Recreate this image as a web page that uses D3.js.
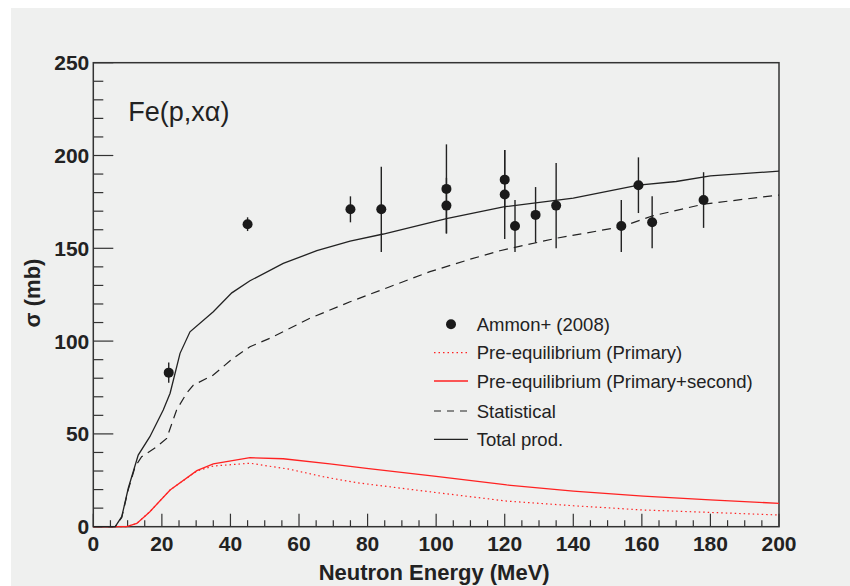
<!DOCTYPE html>
<html>
<head>
<meta charset="utf-8">
<script src="https://cdn.jsdelivr.net/npm/d3@7"></script>
<style>
  body { margin: 0; background: #fff; }
  svg { display: block; }
  text { font-family: "Liberation Sans", Arial, Helvetica, sans-serif; fill: #222; }
</style>
</head>
<body>
<div id="chart"></div>
<script>
// Ammon+ (2008) measurements: energy, cross section, error
const dataE   = [22, 45, 75, 84, 103, 103, 120, 120, 123, 129, 135, 154, 159, 163, 178];
const dataSig = [83, 163, 171, 171, 182, 173, 187, 179, 162, 168, 173, 162, 184, 164, 176];
const dataErr = [5.5, 3.7, 7, 23, 24, 15, 16, 24, 14, 15, 23, 14, 15, 14, 15];

// Total prod.
const totE   = [0, 6.4, 8.3, 10.2, 13.1, 16.5, 20.4, 22.4, 25.3, 28.2, 35, 40.4, 45.7, 55.4, 65.2, 74.9, 84.6, 103, 120, 140, 159, 170, 180, 200];
const totSig = [0, 0, 5.4, 20.7, 38.6, 48.5, 62.9, 71.9, 93.4, 105, 115.8, 126, 132.5, 141.9, 148.7, 153.9, 157.7, 166, 172.4, 177, 184, 186, 189, 191.6];

// Statistical
const statE   = [0, 6.4, 8.3, 10.2, 12.2, 14.1, 18.5, 21.4, 24.3, 27.2, 29.2, 35, 40.4, 45.7, 51.5, 63.2, 74.9, 86.5, 98.2, 109.9, 118.6, 123, 135, 154, 163, 178, 200];
const statSig = [0, 0, 5, 20, 32.3, 37.7, 43.1, 47.6, 62.9, 71.9, 76.3, 81.7, 90.2, 97, 101.5, 112.3, 121.2, 129.3, 137.4, 144.1, 148.7, 150.5, 155.4, 161.6, 167.4, 173.8, 178.7];

// Pre-equilibrium (Primary+second)
const peqE   = [0, 9.7, 12.7, 16.5, 22.4, 30.2, 35, 45.7, 55.4, 69, 79.7, 100, 120.6, 140, 160.4, 179.9, 200];
const peqSig = [0, 0, 1.8, 8.1, 19.8, 30.2, 33.8, 37.2, 36.6, 33.8, 31.4, 27.1, 22.5, 19.2, 16.5, 14.4, 12.6];

// Pre-equilibrium (Primary)
const priE   = [0, 9.7, 12.7, 16.5, 22.4, 30.2, 35, 45.7, 57.4, 67.1, 76.8, 100, 120.6, 140, 160.4, 179.9, 200];
const priSig = [0, 0, 1.8, 8.1, 19.8, 30.0, 32.7, 34.2, 30.9, 26.9, 23.7, 18.4, 13.8, 11.3, 9, 7.7, 6.3];

const legendLabels = ["Ammon+ (2008)", "Pre-equilibrium (Primary)", "Pre-equilibrium (Primary+second)", "Statistical", "Total prod."];

const W = 850, H = 586;
const margin = { top: 62.7, right: 71, bottom: 59.3, left: 93.3 };
const iw = W - margin.left - margin.right;
const ih = H - margin.top - margin.bottom;

const svg = d3.select("#chart").append("svg")
    .attr("width", W)
    .attr("height", H);

svg.append("rect")
    .attr("x", 11).attr("y", 8)
    .attr("width", W - 11).attr("height", H - 8)
    .attr("fill", "#eff0ef");

const g = svg.append("g")
    .attr("transform", `translate(${margin.left},${margin.top})`);

const x = d3.scaleLinear().domain([0, 200]).range([0, iw]);
const y = d3.scaleLinear().domain([0, 250]).range([ih, 0]);

// ticks drawn inward, ROOT style
const xMinor = d3.range(0, 201, 5);
g.selectAll(".xtick").data(xMinor).enter().append("line")
    .attr("x1", d => x(d)).attr("x2", d => x(d))
    .attr("y1", ih).attr("y2", d => ih - (d % 20 === 0 ? 13 : 6.5))
    .attr("stroke", "#333").attr("stroke-width", 1.2);

const yMinor = d3.range(0, 251, 10);
g.selectAll(".ytick").data(yMinor).enter().append("line")
    .attr("y1", d => y(d)).attr("y2", d => y(d))
    .attr("x1", 0).attr("x2", d => (d % 50 === 0 ? 20 : 10))
    .attr("stroke", "#333").attr("stroke-width", 1.2);

g.selectAll(".xlab").data(d3.range(0, 201, 20)).enter().append("text")
    .attr("x", d => x(d)).attr("y", ih + 24)
    .attr("text-anchor", "middle")
    .attr("font-size", 21).attr("font-weight", "bold")
    .text(d => d);

g.selectAll(".ylab").data(d3.range(0, 251, 50)).enter().append("text")
    .attr("x", -4).attr("y", d => y(d) + 7.5)
    .attr("text-anchor", "end")
    .attr("font-size", 21).attr("font-weight", "bold")
    .text(d => d);

g.append("rect")
    .attr("width", iw).attr("height", ih)
    .attr("fill", "none").attr("stroke", "#333").attr("stroke-width", 1.5);

svg.append("text")
    .attr("x", margin.left + iw / 2 - 2).attr("y", 580)
    .attr("text-anchor", "middle")
    .attr("font-size", 22).attr("font-weight", "bold")
    .text("Neutron Energy (MeV)");

svg.append("text")
    .attr("transform", "translate(40,293) rotate(-90)")
    .attr("text-anchor", "middle")
    .attr("font-size", 22).attr("font-weight", "bold")
    .text("σ (mb)");

g.append("text")
    .attr("x", 128.3 - margin.left).attr("y", 121 - margin.top)
    .attr("font-size", 27)
    .text("Fe(p,xα)");

const line = d3.line().x(d => x(d[0])).y(d => y(d[1]));
const zip = (a, b) => a.map((v, i) => [v, b[i]]);

const curves = [
    { e: priE, s: priSig, color: "#f22", dash: "1.5,3", w: 1.2 },
    { e: peqE, s: peqSig, color: "#f22", dash: null, w: 1.3 },
    { e: statE, s: statSig, color: "#222", dash: "9,6", w: 1.2 },
    { e: totE, s: totSig, color: "#222", dash: null, w: 1.3 }
];

curves.forEach(c => {
    g.append("path")
        .datum(zip(c.e, c.s))
        .attr("d", line)
        .attr("fill", "none")
        .attr("stroke", c.color)
        .attr("stroke-width", c.w)
        .attr("stroke-dasharray", c.dash);
});

const pts = dataE.map((e, i) => ({ e: e, s: dataSig[i], err: dataErr[i] }));

g.selectAll(".err").data(pts).enter().append("line")
    .attr("x1", d => x(d.e)).attr("x2", d => x(d.e))
    .attr("y1", d => y(d.s - d.err)).attr("y2", d => y(d.s + d.err))
    .attr("stroke", "#222").attr("stroke-width", 1.4);

g.selectAll(".pt").data(pts).enter().append("circle")
    .attr("cx", d => x(d.e)).attr("cy", d => y(d.s))
    .attr("r", 5)
    .attr("fill", "#1a1a1a");

// legend
const leg = svg.append("g");
const rowY = [324.3, 352.7, 381, 411, 439.3];
legendLabels.forEach((lab, i) => {
    const yy = rowY[i];
    if (i === 0) {
        leg.append("circle").attr("cx", 451).attr("cy", yy).attr("r", 5).attr("fill", "#1a1a1a");
    } else {
        const c = curves[i - 1];
        leg.append("line")
            .attr("x1", 434).attr("x2", 468)
            .attr("y1", yy).attr("y2", yy)
            .attr("stroke", c.color).attr("stroke-width", c.w)
            .attr("stroke-dasharray", c.dash === "9,6" ? "7,6" : c.dash);
    }
    leg.append("text")
        .attr("x", 476.7).attr("y", yy + 6.5)
        .attr("font-size", 18.5)
        .text(lab);
});
</script>
</body>
</html>
